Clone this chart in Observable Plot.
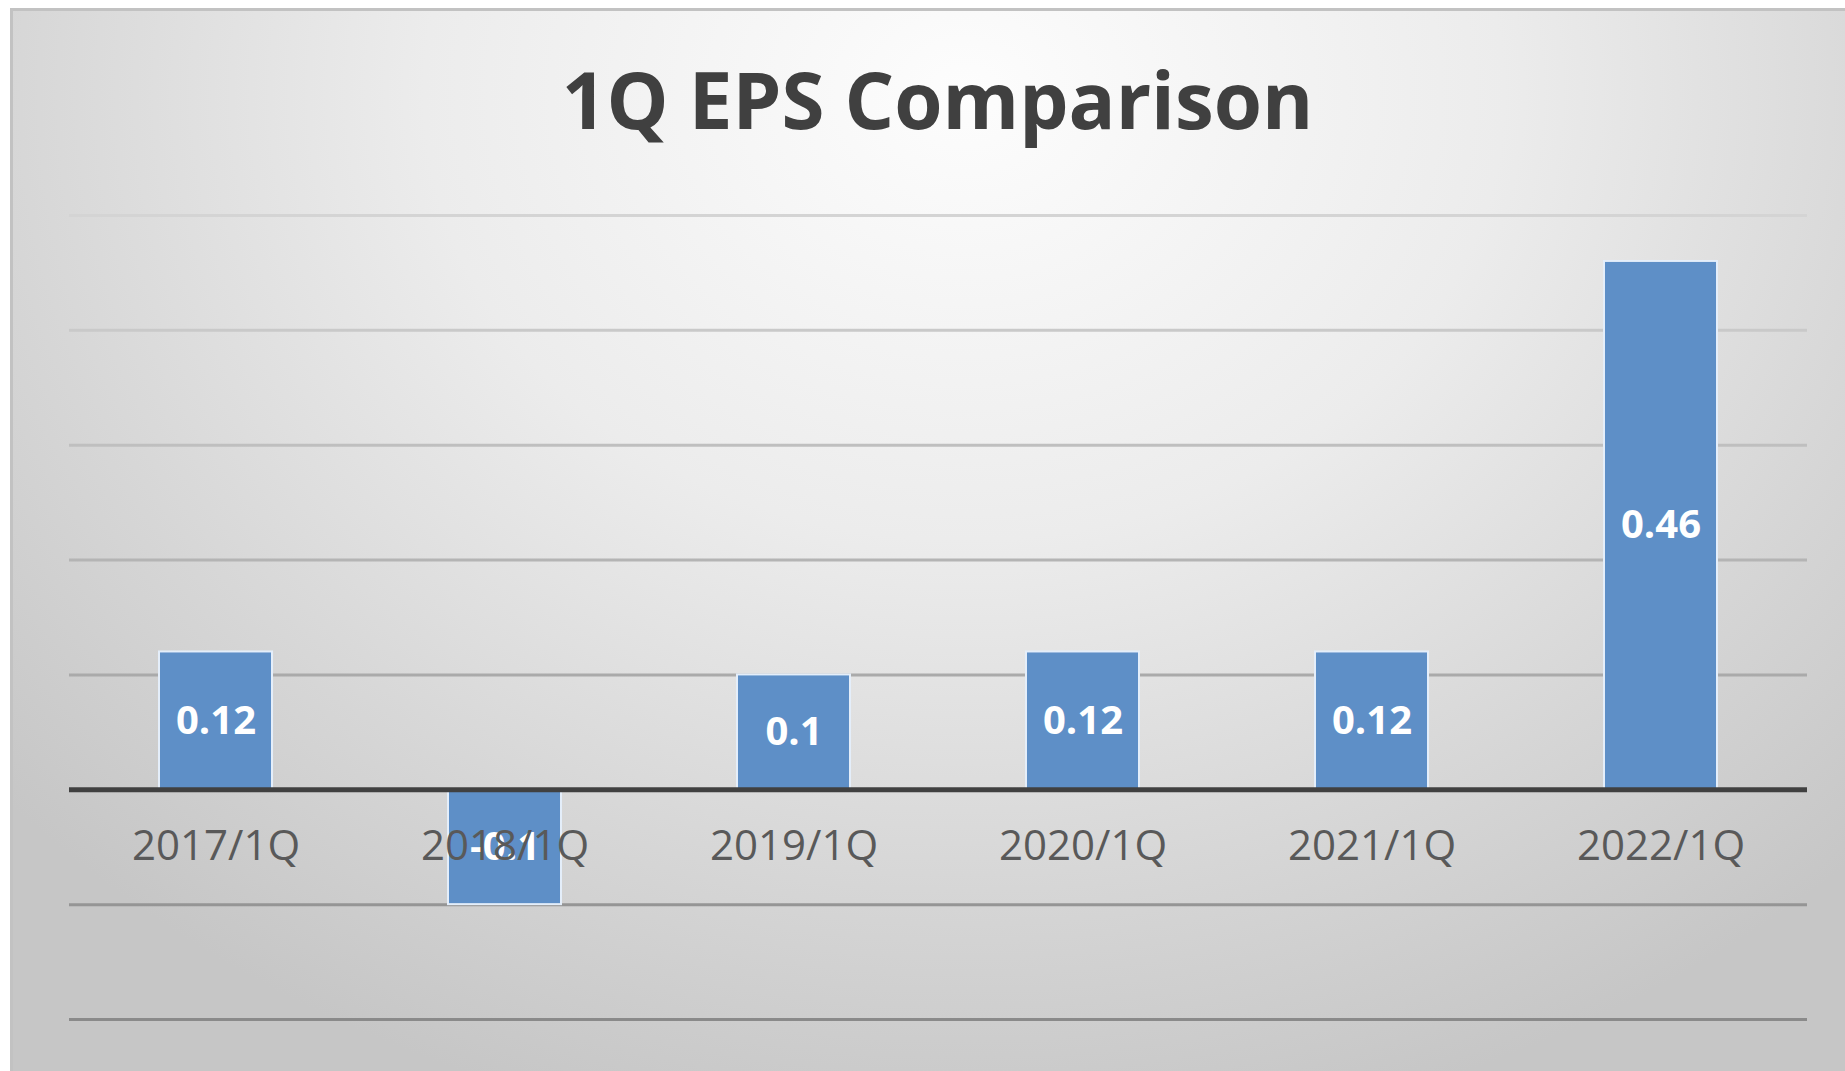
<!DOCTYPE html>
<html>
<head>
<meta charset="utf-8">
<script src="https://cdn.jsdelivr.net/npm/d3@7"></script>
<script src="https://cdn.jsdelivr.net/npm/@observablehq/plot@0.6"></script>
<style>
  html, body { margin: 0; padding: 0; background: #ffffff; }
  body { width: 1845px; height: 1071px; overflow: hidden; position: relative; }
  #frame {
    position: absolute; left: 10px; top: 8px; width: 1835px; height: 1063px;
    background: radial-gradient(ellipse 70% 100% at 52% 8%, #fdfdfd 0%, #ececec 42%, #d6d6d6 75%, #c6c6c6 100%);
    box-shadow: inset 3px 3px 0 #c2c2c2;
  }
  #title {
    position: absolute; left: 20px; right: 0; top: 38px; text-align: center;
    font-family: "Open Sans", sans-serif; font-weight: 700; font-size: 78px;
    color: #404040; line-height: normal;
  }
  #chart { position: absolute; left: 0; top: 190px; }
</style>
</head>
<body>
<div id="frame">
  <div id="title">1Q EPS Comparison</div>
  <div id="chart"></div>
</div>
<script>
const categories = ["2017/1Q", "2018/1Q", "2019/1Q", "2020/1Q", "2021/1Q", "2022/1Q"];
const eps = [0.12, -0.1, 0.1, 0.12, 0.12, 0.46];
const gridTicks = [-0.2, -0.1, 0, 0.1, 0.2, 0.3, 0.4, 0.5];
const valueLabels = ["0.12", "-0.1", "0.1", "0.12", "0.12", "0.46"];

const data = categories.map((q, i) => ({q, eps: eps[i], label: valueLabels[i]}));
const gridColor = d3.scaleLinear().domain([-0.2, 0.5]).range(["#8a8a8a", "#d4d4d4"]);

const chart = Plot.plot({
  width: 1835,
  height: 873,
  marginTop: 17,
  marginBottom: 52,
  marginLeft: 59,
  marginRight: 38,
  style: {fontFamily: "'Open Sans', sans-serif", background: "transparent", overflow: "visible"},
  x: {domain: categories, paddingInner: 0.61, paddingOuter: 0.305, axis: null},
  y: {domain: [-0.2, 0.5], axis: null},
  marks: [
    Plot.ruleY(gridTicks.filter(t => t !== 0), {stroke: d => gridColor(d), strokeWidth: 3}),
    Plot.barY(data, {x: "q", y: "eps", fill: "#5e8fc7", stroke: "#e4eefa", strokeWidth: 2}),
    Plot.ruleY([0], {stroke: "#404040", strokeWidth: 5}),
    Plot.text(data, {x: "q", y: d => d.eps / 2, text: "label", fill: "#ffffff", fontWeight: 700, fontSize: 40, style: "letter-spacing:2px"}),
    Plot.text(categories, {x: d => d, y: () => 0, dy: 57, text: d => d, fill: "#595959", fontSize: 42, style: "letter-spacing:2px"})
  ]
});
document.getElementById("chart").appendChild(chart);
</script>
</body>
</html>
